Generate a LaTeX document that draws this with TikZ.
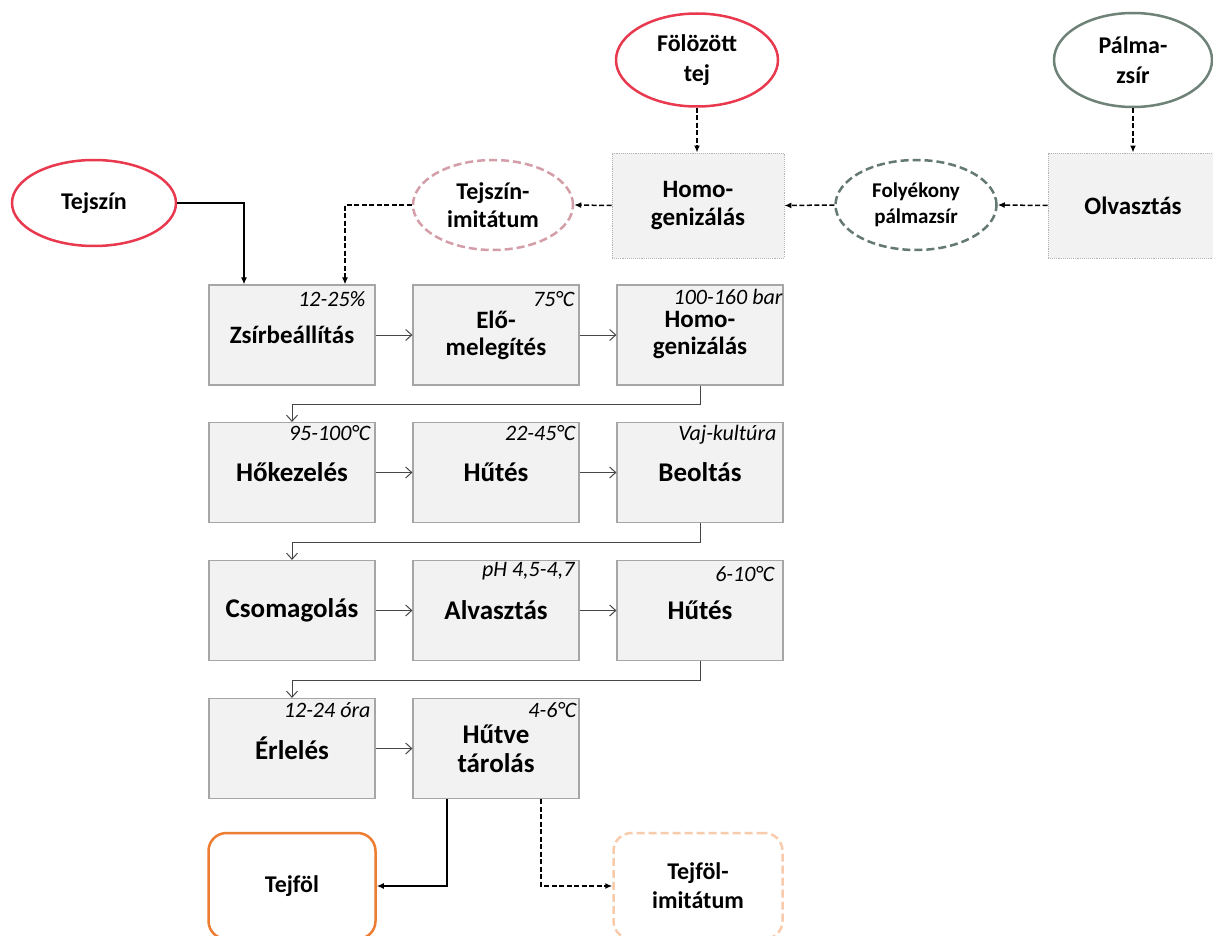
\documentclass[tikz,border=0pt]{standalone}
\usepackage{fontspec}
\setmainfont{Carlito}
\usetikzlibrary{shapes.geometric,arrows.meta,calc}
\definecolor{boxfill}{RGB}{242,242,242}
\definecolor{boxline}{RGB}{166,166,166}
\definecolor{dotline}{RGB}{180,180,180}
\definecolor{arrgray}{RGB}{70,70,70}
\definecolor{redc}{RGB}{233,57,78}
\definecolor{palmc}{RGB}{110,130,120}
\definecolor{pinkc}{RGB}{212,158,168}
\definecolor{folyc}{RGB}{100,122,112}
\definecolor{orangec}{RGB}{237,125,49}
\definecolor{lorangec}{RGB}{248,203,173}
\begin{document}
\begin{tikzpicture}[x=1pt,y=-1pt,
  proc/.style={draw=boxline, line width=1.2pt, fill=boxfill, minimum width=166pt, minimum height=100pt, inner sep=0pt, align=center, font=\bfseries\fontsize{27}{29}\selectfont},
  procA/.style={proc, font=\bfseries\fontsize{25}{27}\selectfont},
  topbox/.style={draw=dotline, densely dotted, line width=0.9pt, fill=boxfill, minimum height=105pt, inner sep=0pt, align=center, font=\bfseries\fontsize{25}{28}\selectfont},
  ann/.style={anchor=base east, inner sep=0pt, font=\itshape\fontsize{22}{22}\selectfont},
  ell/.style={ellipse, line width=2.5pt, inner sep=0pt, align=center, font=\bfseries\fontsize{24}{30}\selectfont},
  flowarr/.style={draw=arrgray, line width=1pt, -{Straight Barb[length=6pt,width=11pt]}},
  dasharr/.style={draw=black, line width=1.5pt, dash pattern=on 5pt off 2.5pt, -{Latex[length=7pt,width=6pt]}},
  solidarr/.style={draw=black, line width=1.8pt, -{Latex[length=7pt,width=6pt]}},
  endbox/.style={rounded corners=18pt, line width=2.5pt, fill=white, minimum width=167pt, minimum height=106pt, inner sep=0pt, align=center, font=\bfseries\fontsize{24}{29}\selectfont}
]
\clip (0,0) rectangle (1213,936);
\fill[white] (0,0) rectangle (1213,936);

% top sources
\node[ell, draw=redc, minimum width=164pt, minimum height=86pt] (tejszin) at (94,203) {Tejszín};
\node[ell, draw=redc, minimum width=162pt, minimum height=93pt] (fol) at (697,60) {Fölözött\\tej};
\node[ell, draw=palmc, minimum width=158pt, minimum height=94pt] (palma) at (1133,60) {Pálma-\\zsír};
\node[ell, draw=pinkc, dash pattern=on 8pt off 4pt, minimum width=160pt, minimum height=90pt, font=\bfseries\fontsize{24}{28}\selectfont] (timit) at (493,205) {Tejszín-\\imitátum};
\node[ell, draw=folyc, dash pattern=on 8pt off 4pt, minimum width=161pt, minimum height=90pt, font=\bfseries\fontsize{21}{26}\selectfont] (foly) at (916,205) {Folyékony\\pálmazsír};
\node[topbox, minimum width=172pt] (hom0) at (698,205.5) {Homo-\\genizálás};
\node[topbox, minimum width=170pt] (olv) at (1133,205.5) {Olvasztás};

% process rows
\node[procA] (zs) at (292,335) {Zsírbeállítás};
\node[procA] (elo) at (496,335) {Elő-\\melegítés};
\node[procA] (hom1) at (700,335) {Homo-\\genizálás};

\node[proc] (hk) at (292,472.5) {Hőkezelés};
\node[proc] (hu1) at (496,472.5) {Hűtés};
\node[proc] (beo) at (700,472.5) {Beoltás};

\node[proc] (cso) at (292,610.5) {Csomagolás};
\node[proc] (alv) at (496,610.5) {Alvasztás};
\node[proc] (hu2) at (700,610.5) {Hűtés};

\node[proc] (erl) at (292,748.5) {Érlelés};
\node[proc] (ht) at (496,748.5) {Hűtve\\tárolás};

% annotations
\node[ann] (a1) at ($(zs.north east)+(-10,22)$) {12-25\%};
\node[ann] (a2) at ($(elo.north east)+(-5,22)$) {75°C};
\node[ann] (a3) at ($(hom1.north east)+(-1,20)$) {100-160 bar};
\node[ann] (a4) at ($(hk.north east)+(-5,19)$) {95-100°C};
\node[ann] (a5) at ($(hu1.north east)+(-4,19)$) {22-45°C};
\node[ann] (a6) at ($(beo.north east)+(-7,19)$) {Vaj-kultúra};
\node[ann] (a7) at ($(alv.north east)+(-5,17)$) {pH 4,5-4,7};
\node[ann] (a8) at ($(hu2.north east)+(-9,22)$) {6-10°C};
\node[ann] (a9) at ($(erl.north east)+(-5,20)$) {12-24 óra};
\node[ann] (a10) at ($(ht.north east)+(-3,20)$) {4-6°C};

% end products
\node[endbox, draw=orangec] (tf) at (292,886) {Tejföl};
\node[endbox, draw=lorangec, dash pattern=on 8pt off 4pt, minimum width=169pt] (tfi) at (698,886) {Tejföl-\\imitátum};

% connectors top
\draw[solidarr] (tejszin.east) -| ($(zs.north)+(-48,0)$);
\draw[dasharr] (timit.west) -| ($(zs.north)+(53,0)$);
\draw[dasharr] (hom0.west) -- (timit.east);
\draw[dasharr] (foly.west) -- (hom0.east);
\draw[dasharr] (olv.west) -- (foly.east);
\draw[dasharr] (fol.south) -- (fol.south |- hom0.north);
\draw[dasharr] (palma.south) -- (olv.north);

% row flows
\draw[flowarr] (zs.east) -- (elo.west);
\draw[flowarr] (elo.east) -- (hom1.west);
\draw[flowarr] (hk.east) -- (hu1.west);
\draw[flowarr] (hu1.east) -- (beo.west);
\draw[flowarr] (cso.east) -- (alv.west);
\draw[flowarr] (alv.east) -- (hu2.west);
\draw[flowarr] (erl.east) -- (ht.west);
\draw[flowarr] (hom1.south) -- ++(0,19) -| (hk.north);
\draw[flowarr] (beo.south) -- ++(0,19.5) -| (cso.north);
\draw[flowarr] (hu2.south) -- ++(0,19.5) -| (erl.north);

% outputs
\draw[solidarr] ($(ht.south)+(-49,0)$) |- (tf.east);
\draw[dasharr] ($(ht.south)+(45,0)$) |- (tfi.west);
\end{tikzpicture}
\end{document}
